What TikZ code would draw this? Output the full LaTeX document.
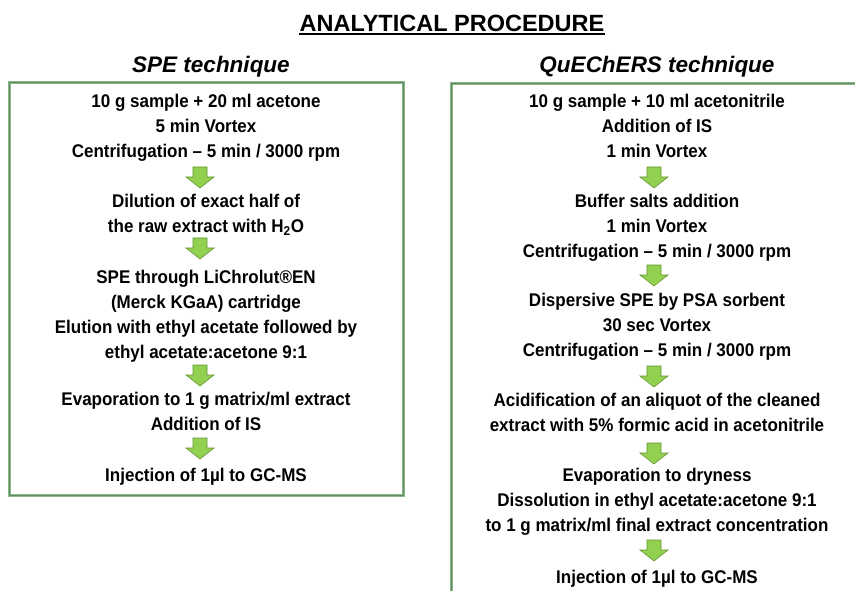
\documentclass[tikz,border=0pt]{standalone}
\usepackage{fontspec}
\setmainfont{Liberation Sans}
\definecolor{boxgreen}{RGB}{140,182,140}
\definecolor{boxdark}{RGB}{96,140,96}
\definecolor{arrowfill}{RGB}{146,208,80}
\definecolor{arrowline}{RGB}{100,150,50}
\begin{document}
\begin{tikzpicture}[x=1pt,y=-1pt,
  boxline/.style={draw=boxgreen, line width=3pt},
  boxinner/.style={draw=boxdark, line width=0.8pt},
  stepbox/.style={anchor=north, inner sep=0pt, align=center, yscale=1.08, transform shape,
     font=\fontsize{17}{23.15}\selectfont\bfseries},
  subtitle/.style={anchor=base, inner sep=0pt, font=\fontsize{22.5}{26}\selectfont\bfseries\itshape},
  blockarrow/.pic={\path[fill=arrowfill, draw=arrowline, line width=0.6pt]
     (-7,-10) -- (7,-10) -- (7,0) -- (14,0) -- (0,11) -- (-14,0) -- (-7,0) -- cycle;}
]
\useasboundingbox (0,0) rectangle (855,591);
\clip (0,0) rectangle (855,591);
\fill[white] (0,0) rectangle (855,591);

% title
\node[anchor=base, inner sep=0pt, font=\fontsize{23.5}{28}\selectfont\bfseries] (title) at (452,32) {ANALYTICAL PROCEDURE};
\draw[line width=1.6pt] ([yshift=-2.2pt]title.base west) -- ([yshift=-2.2pt]title.base east);

\node[subtitle] (spe) at (211,73) {SPE technique};
\node[subtitle] (que) at (657,73) {QuEChERS technique};

% boxes
\draw[boxline] (9.5,82.5) rectangle (403,495.5);
\draw[boxinner] (9.5,82.5) rectangle (403,495.5);
\draw[boxline] (451,83.5) rectangle (880,620);
\draw[boxinner] (451,83.5) rectangle (880,620);

% SPE column
\node[stepbox] (s1) at (206,94) {10 g sample + 20 ml acetone\\5 min Vortex\\Centrifugation -- 5 min / 3000 rpm};
\pic at (200,177) {blockarrow};
\node[stepbox] (s2) at (206,194) {Dilution of exact half of\\the raw extract with H\textsubscript{2}O};
\pic at (200,248) {blockarrow};
\node[stepbox] (s3) at (206,270) {SPE through LiChrolut®EN\\(Merck KGaA) cartridge\\Elution with ethyl acetate followed by\\ethyl acetate:acetone 9:1};
\pic at (200,375) {blockarrow};
\node[stepbox] (s4) at (206,392) {Evaporation to 1 g matrix/ml extract\\Addition of IS};
\pic at (200,448) {blockarrow};
\node[stepbox] (s5) at (206,468) {Injection of 1µl to GC-MS};

% QuEChERS column
\node[stepbox] (q1) at (657,94) {10 g sample + 10 ml acetonitrile\\Addition of IS\\1 min Vortex};
\pic at (654,177) {blockarrow};
\node[stepbox] (q2) at (657,194) {Buffer salts addition\\1 min Vortex\\Centrifugation -- 5 min / 3000 rpm};
\pic at (654,275) {blockarrow};
\node[stepbox] (q3) at (657,293) {Dispersive SPE by PSA sorbent\\30 sec Vortex\\Centrifugation -- 5 min / 3000 rpm};
\pic at (654,376) {blockarrow};
\node[stepbox] (q4) at (657,393) {Acidification of an aliquot of the cleaned\\extract with 5\% formic acid in acetonitrile};
\pic at (654,453) {blockarrow};
\node[stepbox] (q5) at (657,468) {Evaporation to dryness\\Dissolution in ethyl acetate:acetone 9:1\\to 1 g matrix/ml final extract concentration};
\pic at (654,550) {blockarrow};
\node[stepbox] (q6) at (657,570) {Injection of 1µl to GC-MS};
\end{tikzpicture}
\end{document}
